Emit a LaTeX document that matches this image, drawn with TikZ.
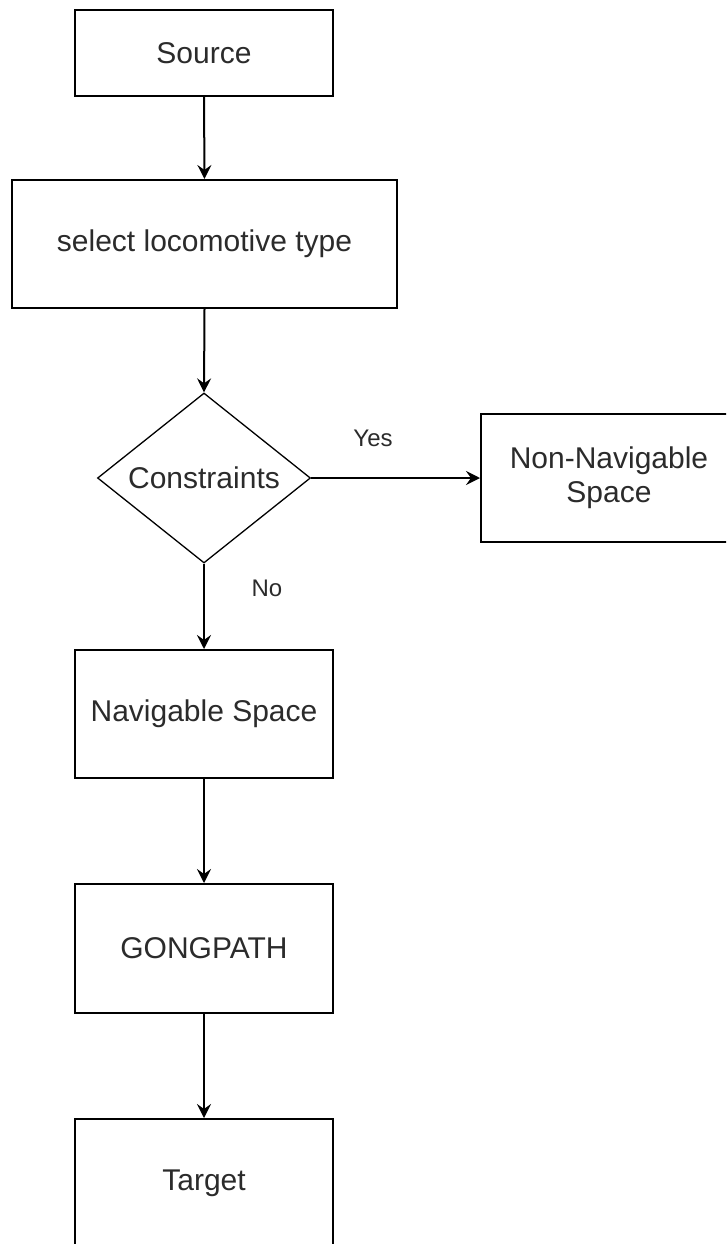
\documentclass[tikz,border=0pt]{standalone}
\usepackage{fontspec}
\setmainfont{Liberation Sans}
\usetikzlibrary{shapes.geometric,arrows.meta}
\definecolor{txt}{HTML}{2B2B2B}
\begin{document}
\begin{tikzpicture}[x=1pt,y=-1pt,
  box/.style={draw=black,line width=2pt,rectangle,inner sep=0pt,align=center,
    text=txt,font=\fontsize{30}{34}\selectfont},
  decision/.style={draw=black,line width=1.3pt,diamond,aspect=1.25,inner sep=0pt,
    minimum width=213pt,minimum height=170pt,text=txt,font=\fontsize{30}{34}\selectfont},
  flow/.style={draw=black,line width=2pt,-{Stealth[length=14pt,width=14pt,inset=5pt]}},
  lbl/.style={text=txt,font=\fontsize{24}{28}\selectfont,inner sep=0pt}]
\useasboundingbox (0,0) rectangle (726,1244);
\clip (0,0) rectangle (726,1244);

\node[box,minimum width=258pt,minimum height=86pt] (source) at (204,53) {Source};
\node[box,minimum width=385pt,minimum height=128pt] (select) at (204.5,244) {select locomotive type};
\node[decision] (constr) at (204,478) {Constraints};
\node[box,minimum width=256pt,minimum height=128pt] (nonnav) at (609,478) {Non-Navigable\\Space};
\node[box,minimum width=258pt,minimum height=128pt] (nav) at (204,714) {Navigable Space};
\node[box,minimum width=258pt,minimum height=129pt] (gong) at (204,948.5) {GONGPATH};
\node[box,minimum width=258pt,minimum height=128pt] (target) at (204,1183) {Target};

\draw[flow] (source.south) -- (select.north);
\draw[flow] (select.south) -- (constr.north);
\draw[flow] (constr.east) -- (nonnav.west);
\draw[flow] (constr.south) -- (nav.north);
\draw[flow] (nav.south) -- (gong.north);
\draw[flow] (gong.south) -- (target.north);

\node[lbl] (yes) at (373,438) {Yes};
\node[lbl] (no) at (267,588) {No};
\end{tikzpicture}
\end{document}
